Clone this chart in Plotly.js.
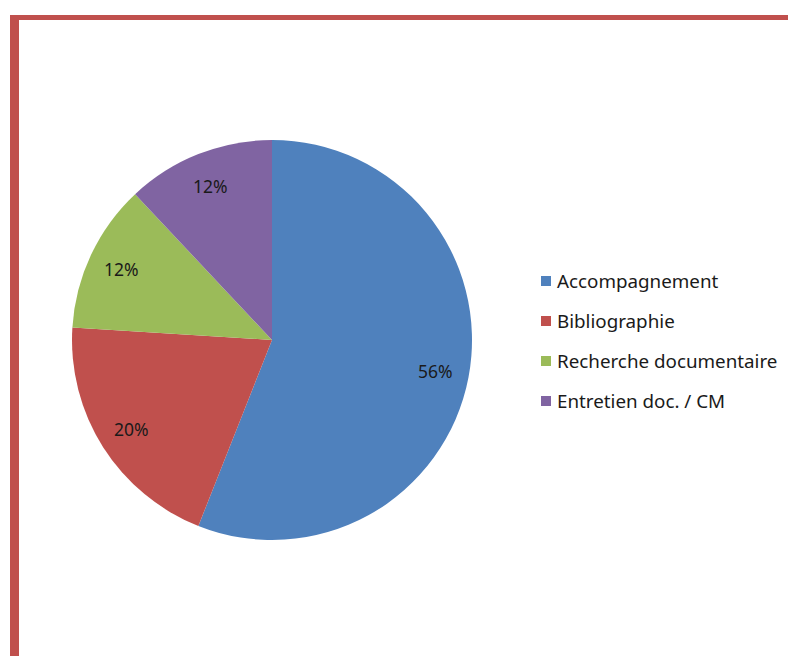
<!DOCTYPE html>
<html>
<head>
<meta charset="utf-8">
<script src="https://cdn.plot.ly/plotly-3.0.1.min.js"></script>
<style>
html,body{margin:0;padding:0;background:#fff;}
#chart{width:788px;height:656px;}
</style>
</head>
<body>
<div id="chart"></div>
<script>
const categories = ["Accompagnement", "Bibliographie", "Recherche documentaire", "Entretien doc. / CM"];
const values = [56, 20, 12, 12];
const colors = ["#4F81BD", "#C0504D", "#9BBB59", "#8064A2"];

const W = 788, H = 656;
const cx = 272, cy = 340, R = 200;
const px = x => x / W;
const py = y => 1 - y / H;

const total = values.reduce((a, b) => a + b, 0);
const annotations = [];
let cum = 0;
values.forEach((v, i) => {
  const mid = (cum + v / 2) / total * 2 * Math.PI;
  cum += v;
  const r = 0.83 * R;
  annotations.push({
    x: px(cx + r * Math.sin(mid)), y: py(cy - r * Math.cos(mid)),
    xref: 'paper', yref: 'paper', showarrow: false,
    text: Math.round(v / total * 100) + '%',
    font: {family: 'Noto Sans', size: 17.5, color: '#1a1a1a'},
    xanchor: 'center', yanchor: 'middle'
  });
});

const shapes = [
  {type: 'rect', xref: 'paper', yref: 'paper', x0: px(10), x1: px(788), y0: py(15), y1: py(20), fillcolor: '#C0504D', line: {width: 0}},
  {type: 'rect', xref: 'paper', yref: 'paper', x0: px(10), x1: px(19), y0: py(15), y1: py(656), fillcolor: '#C0504D', line: {width: 0}}
];

const legY0 = 281, legStep = 40;
categories.forEach((c, i) => {
  const y = legY0 + i * legStep;
  shapes.push({type: 'rect', xref: 'paper', yref: 'paper',
    x0: px(541), x1: px(551), y0: py(y - 5), y1: py(y + 5),
    fillcolor: colors[i], line: {width: 0}});
  annotations.push({
    x: px(555), y: py(y), xref: 'paper', yref: 'paper', showarrow: false,
    text: c, font: {family: 'Noto Sans', size: 18.8, color: '#1a1a1a'},
    xanchor: 'left', yanchor: 'middle'
  });
});

const data = [{
  type: 'pie',
  labels: categories,
  values: values,
  sort: false,
  direction: 'clockwise',
  rotation: 0,
  marker: {colors: colors, line: {width: 0}},
  textinfo: 'none',
  hoverinfo: 'label+percent',
  domain: {x: [px(cx - R), px(cx + R)], y: [py(cy + R), py(cy - R)]}
}];

const layout = {
  width: W, height: H,
  margin: {l: 0, r: 0, t: 0, b: 0},
  paper_bgcolor: '#fff',
  showlegend: false,
  shapes: shapes,
  annotations: annotations
};

Plotly.newPlot('chart', data, layout, {displayModeBar: false, staticPlot: true});
</script>
</body>
</html>
